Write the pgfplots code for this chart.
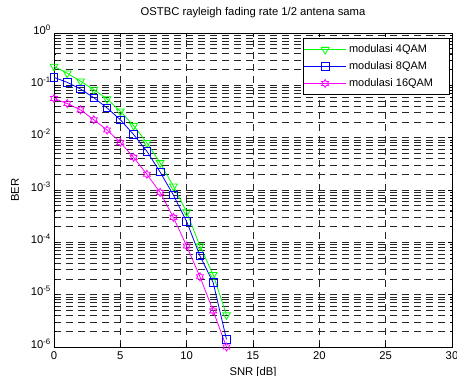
\documentclass[border=0pt]{standalone}
\usepackage{pgfplots}
\pgfplotsset{compat=1.18}
\usepackage{fontspec}
\setmainfont{Liberation Sans}
\pgfdeclareplotmark{hexagram}{%
 \pgfmathsetlengthmacro\hexr{\pgfplotmarksize*0.577}%
 \pgfpathmoveto{\pgfqpointpolar{90}{\pgfplotmarksize}}%
 \pgfpathlineto{\pgfpointpolar{120}{\hexr}}%
 \pgfpathlineto{\pgfqpointpolar{150}{\pgfplotmarksize}}%
 \pgfpathlineto{\pgfpointpolar{180}{\hexr}}%
 \pgfpathlineto{\pgfqpointpolar{210}{\pgfplotmarksize}}%
 \pgfpathlineto{\pgfpointpolar{240}{\hexr}}%
 \pgfpathlineto{\pgfqpointpolar{270}{\pgfplotmarksize}}%
 \pgfpathlineto{\pgfpointpolar{300}{\hexr}}%
 \pgfpathlineto{\pgfqpointpolar{330}{\pgfplotmarksize}}%
 \pgfpathlineto{\pgfpointpolar{0}{\hexr}}%
 \pgfpathlineto{\pgfqpointpolar{30}{\pgfplotmarksize}}%
 \pgfpathlineto{\pgfpointpolar{60}{\hexr}}%
 \pgfpathclose
 \pgfusepathqstroke}
\definecolor{mgreen}{RGB}{0,255,0}
\definecolor{mblue}{RGB}{0,0,255}
\definecolor{mmag}{RGB}{255,0,255}
\begin{document}
\begin{tikzpicture}
\begin{axis}[
  at={(0,0)}, anchor=south west,
  scale only axis, width=398bp, height=314bp,
  xmin=0, xmax=30, ymode=log, ymin=1e-6, ymax=1,
  xtick={0,5,...,30},
  ytick={1e-6,1e-5,1e-4,1e-3,1e-2,1e-1,1},
  yticklabels={10\textsuperscript{-6},10\textsuperscript{-5},10\textsuperscript{-4},10\textsuperscript{-3},10\textsuperscript{-2},10\textsuperscript{-1},10\textsuperscript{0}},
  /pgf/number format/assume math mode=true,
  font=\fontsize{11.3}{13}\selectfont,
  tick align=inside,
  major tick length=4bp, minor tick length=2.5bp,
  tick style={black, line width=0.6bp},
  axis line style={black, line width=0.8bp},
  grid=both,
  major grid style={dash pattern=on 7bp off 5bp, black!85, line width=0.7bp},
  minor grid style={dash pattern=on 7bp off 5bp, black!85, line width=0.7bp},
  xticklabel style={anchor=base, yshift=-12.5bp, inner sep=0pt},
  yticklabel style={anchor=base east, yshift=-1bp, xshift=-3bp, inner sep=0pt},
  title={OSTBC rayleigh fading rate 1/2 antena sama},
  title style={at={(axis description cs:0.5,1)}, anchor=base, yshift=12bp, inner sep=0pt},
  xlabel={SNR [dB]},
  xlabel style={at={(axis description cs:0.5,0)}, anchor=base, yshift=-28bp, inner sep=0pt},
  ylabel={BER},
  ylabel style={at={(axis description cs:-0.088,0.5)}, anchor=base, inner sep=0pt},
  legend style={at={(axis description cs:1,1)}, anchor=north east, xshift=-2bp, yshift=-5bp,
    draw=black, line width=0.8bp, fill=white, inner xsep=0bp, inner ysep=4bp, row sep=2.5bp,
    font=\fontsize{11}{13}\selectfont,
    nodes={inner xsep=2.5bp, inner ysep=2.5bp}},
  legend cell align=left,
  legend image code/.code={\draw[mark repeat=2, mark phase=2, #1, line width=0.8bp] plot coordinates {(-2.5bp,0bp) (18.5bp,0bp) (39.5bp,0bp)};},
]
\addplot[mgreen, line width=0.8bp, mark=triangle, mark size=4.5bp, mark options={rotate=180, solid}] coordinates {
 (0,0.23) (1,0.17) (2,0.12) (3,0.083) (4,0.055) (5,0.032) (6,0.017) (7,0.0080) (8,0.0033) (9,0.00118) (10,3.8e-4) (11,8.5e-5) (12,2.4e-5) (13,4.1e-6)};
\addlegendentry{modulasi 4QAM\hspace*{14bp}}
\addplot[mblue, line width=0.8bp, mark=square, mark size=3.8bp, mark options={solid}] coordinates {
 (0,0.142) (1,0.114) (2,0.085) (3,0.058) (4,0.037) (5,0.022) (6,0.0115) (7,0.0055) (8,0.0022) (9,8e-4) (10,2.5e-4) (11,5.5e-5) (12,1.7e-5) (13,1.4e-6)};
\addlegendentry{modulasi 8QAM}
\addplot[mmag, line width=0.8bp, mark=hexagram, mark size=4bp, mark options={solid}] coordinates {
 (0,0.056) (1,0.045) (2,0.034) (3,0.022) (4,0.014) (5,0.0081) (6,0.0042) (7,0.0020) (8,9e-4) (9,3e-4) (10,8.5e-5) (11,2.2e-5) (12,4.9e-6) (13,1e-6)};
\addlegendentry{modulasi 16QAM\hspace*{14bp}}
\end{axis}
\pgfresetboundingbox
\path[use as bounding box] (-54bp,-29bp) rectangle (403bp,347bp);
\end{tikzpicture}
\end{document}
